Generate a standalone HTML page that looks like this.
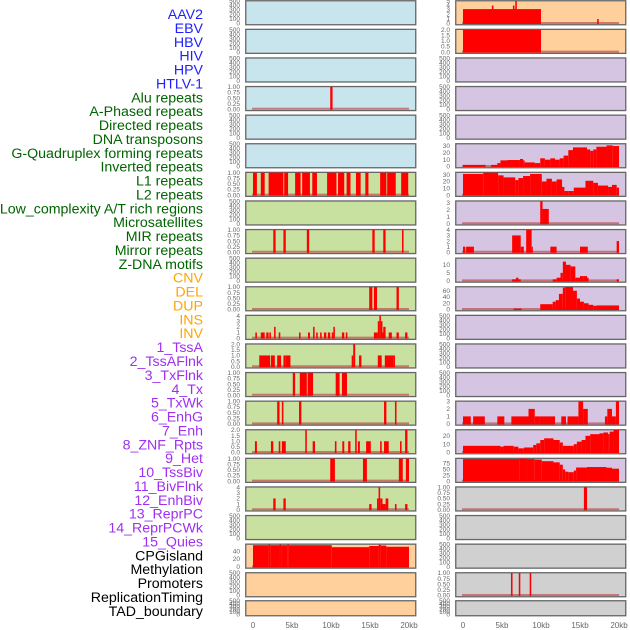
<!DOCTYPE html>
<html><head><meta charset="utf-8"><style>
body{margin:0;background:#fff;width:630px;height:630px;overflow:hidden}
svg{display:block;font-family:"Liberation Sans",sans-serif}
</style></head><body>
<svg id="chart" width="630" height="630" viewBox="0 0 630 630"></svg>
<script>
// Track labels
const labels = ["AAV2","EBV","HBV","HIV","HPV","HTLV-1","Alu repeats","A-Phased repeats","Directed repeats","DNA transposons","G-Quadruplex forming repeats","Inverted repeats","L1 repeats","L2 repeats","Low_complexity A/T rich regions","Microsatellites","MIR repeats","Mirror repeats","Z-DNA motifs","CNV","DEL","DUP","INS","INV","1_TssA","2_TssAFlnk","3_TxFlnk","4_Tx","5_TxWk","6_EnhG","7_Enh","8_ZNF_Rpts","9_Het","10_TssBiv","11_BivFlnk","12_EnhBiv","13_ReprPC","14_ReprPCWk","15_Quies","CPGisland","Methylation","Promoters","ReplicationTiming","TAD_boundary"];
const labelColors = ["#1f1fff","#006400","#ffa500","#a030f0","#000"];
const labelGroup = [0,0,0,0,0,0,1,1,1,1,1,1,1,1,1,1,1,1,1,2,2,2,2,2,3,3,3,3,3,3,3,3,3,3,3,3,3,3,3,4,4,4,4,4];
const panelFill = ["#c8e4ec","#c8e0a0","#ffd09c","#d5c5e2","#d0d0d0"];
const leftGroup = [0,0,0,0,0,0,1,1,1,1,1,1,1,1,1,1,1,1,1,2,2,2];
const rightGroup = [2,2,3,3,3,3,3,3,3,3,3,3,3,3,3,3,3,4,4,4,4,4];
const xTickVals = [0,5,10,15,20];
const xTickLabels = ["0","5kb","10kb","15kb","20kb"];
const L0=[],L1=[],L2=[],L4=[],L5=[],L7=[],L9=[],L18=[],L20=[],L21=[];
const L3=[[9.9,10.2,1]];
const L6=[[0,0.5,1],[1,1.5,1],[2,3.9,1],[4,4.5,1],[5.4,6.1,1],[6.3,7.3,1],[7.6,8.2,1],[9.5,10.7,1],[10.9,11.7,1],[12,12.5,1],[13.2,13.8,1],[14.4,14.8,1],[16.3,17.1,1],[17.2,18.3,1],[19,19.9,1]];
const L8=[[2.6,2.9,1],[3.9,4.2,1],[6.9,7.2,1],[15.3,15.6,1],[16.7,17,1],[19.1,19.3,1]];
const L10=[[14.9,15.3,1],[15.5,15.9,1],[18.4,18.7,1]];
const L11=[[0.3,0.5,1],[1,1.5,1],[1.7,2,1],[2.1,2.3,1],[2.7,2.9,2],[3.3,3.5,1],[5.9,6.1,1],[7.05,7.3,1],[7.7,7.9,2],[8.1,8.3,1],[8.6,8.8,1],[9.1,9.4,1],[9.6,9.9,1],[10.1,10.3,1],[10.3,10.5,2],[11.4,11.7,1],[11.9,12.1,1],[15.5,16,1],[16,16.2,3],[16.2,16.4,4],[16.4,16.6,3],[16.6,16.7,1],[16.7,17,2],[17.4,17.8,1],[18.4,18.7,1],[19.5,19.8,1]];
const L12=[[0.8,2.2,1],[2.3,2.8,1],[3.1,3.6,1],[3.9,4.2,1],[4.2,4.8,1],[12.65,12.85,1],[12.85,13.1,2],[13.6,13.9,1],[16,16.5,1],[16.9,18,1],[18,18.2,1]];
const L13=[[5.1,5.4,1],[6,6.9,1],[7,7.7,1],[10.6,11.1,1],[11.4,12.05,1]];
const L14=[[3.1,3.4,1],[3.7,3.9,1],[5.9,6.2,1],[16.8,17.1,1],[18.2,18.4,1]];
const L15=[[0.25,0.5,1],[2.3,2.6,1],[3.3,3.5,1],[3.7,4.2,1],[6.7,6.9,2],[7.65,7.95,1],[10.5,10.7,1],[11.45,11.7,1],[12.2,12.5,1],[13.1,13.3,2],[13.45,13.7,1],[14.5,15.1,1],[16.3,16.5,1],[16.8,17.4,1],[18.85,19.05,1],[19.5,19.8,2]];
const L16=[[9.9,10.5,1],[14.1,14.6,1],[18.7,19.2,1],[19.6,20,1]];
const L17=[[2.6,2.9,2],[3.9,4.2,2],[14.9,15.2,1],[15.9,16.1,2],[16.1,16.3,4],[16.3,16.6,2],[16.6,17,1],[17,17.35,2],[18.2,18.4,1],[19.5,19.8,1]];
const L19=[[0,2,55],[2,2.2,57],[2.2,3.4,55],[3.4,3.6,57],[3.6,4.4,55],[4.4,4.6,57],[4.6,10.1,55],[10.1,14.9,50],[14.9,16.1,53],[16.1,16.4,56],[16.4,17.1,54],[17.1,20,51]];
const R0=[[0,10,3.2],[3.7,3.9,4],[6.4,6.6,4],[6.7,6.9,5],[17.2,17.4,1]];
const R1=[[0,10,2]];
const R2=[],R3=[],R4=[],R11=[],R12=[],R13=[],R18=[],R19=[],R21=[];
const R5=[[0,2.9,2.4],[3.6,4.4,2.4],[4.4,4.8,5],[4.8,5.7,9],[5.7,7.3,9.5],[7.3,7.7,11],[7.7,7.9,9],[7.9,9.2,6],[9.2,9.9,5],[9.9,10.5,12],[10.5,11.2,10],[11.2,11.8,12],[11.8,12.4,10],[12.4,12.9,12],[12.9,13.5,16],[13.5,14.1,24],[14.1,15.9,28],[15.9,16.3,25],[16.3,16.7,23],[16.7,17.1,25],[17.1,18.4,29],[18.4,19.2,31],[19.2,20,30]];
const R6=[[0,2.6,31],[2.6,4.5,33],[4.5,5.2,29],[5.2,6.7,26],[6.7,7.1,22],[7.1,7.7,25],[7.7,8.6,28],[8.6,10.1,31],[10.1,10.7,20],[10.7,11.4,24],[11.4,12,20],[12,12.7,23],[12.7,13,12],[13,13.5,6],[13.5,14.2,6],[14.2,15.7,11],[15.7,16.7,21],[16.7,17.3,18],[17.3,18.6,14],[18.6,19.1,12],[19.1,19.7,15],[19.7,20,11]];
const R7=[[9.9,10.2,3.2],[10.2,11,2.1]];
const R8=[[0,0.3,1],[0.4,1.4,1],[6.3,7.4,3],[7.4,7.8,1],[8.1,8.8,4],[8.8,8.9,1],[11.2,12,1],[15,16,1],[19.7,20,2]];
const R9=[[6.3,6.8,1],[6.8,7.1,2],[7.1,7.4,1],[11.5,12,1],[12,12.5,2],[12.5,12.8,5],[12.8,13.2,12],[13.2,13.8,10],[13.8,14.4,9],[14.4,15,2],[15,15.4,3],[15.4,15.9,3],[15.9,16.1,2],[19.7,20,1]];
const R10=[[6.5,7.5,3],[9.9,11.5,17],[11.5,11.9,25],[11.9,12.3,30],[12.3,12.8,50],[12.8,13.1,70],[13.1,14.1,72],[14.1,14.6,60],[14.6,15,35],[15,15.5,25],[15.5,16.1,20],[16.1,16.7,15],[16.7,17.1,12],[17.1,20,13]];
const R14=[[0,1,1],[1.3,2.8,1],[4.4,5.3,1],[6.2,8.4,1],[8.4,9.2,2],[9.2,9.8,1],[9.8,11.8,1],[12.6,13.2,1],[13.4,14.8,1],[14.8,15.4,3],[15.4,16,2],[18.2,18.5,1],[18.5,19.1,2],[19.1,19.6,1],[19.6,20,3]];
const R15=[[0,4.8,8],[4.8,5.2,7],[5.2,6.5,8],[6.5,7.1,7],[7.1,7.8,5],[7.8,9,6],[9,9.4,9],[9.4,9.9,11],[9.9,10.4,15],[10.4,11.6,17],[11.6,12.4,15],[12.4,12.8,12],[12.8,14.2,8],[14.2,14.6,10],[14.6,15.2,13],[15.2,15.7,15],[15.7,16.3,20],[16.3,17.5,22],[17.5,18,23],[18,18.6,24],[18.6,18.8,22],[18.8,19.3,25],[19.3,20,27]];
const R16=[[0,7.2,94],[7.2,8.2,96],[8.2,9.2,94],[9.2,10.1,92],[10.1,11.6,85],[11.6,12.4,80],[12.4,12.8,70],[12.8,13.1,50],[13.1,13.5,40],[13.5,14.2,38],[14.2,14.5,45],[14.5,15.9,58],[15.9,18.4,60],[18.4,19.1,57],[19.1,20,53]];
const R17=[[15.5,15.9,1]];
const R20=[[6.15,6.35,1],[7.15,7.35,1],[8.55,8.75,1]];
const leftData=[L0,L1,L2,L3,L4,L5,L6,L7,L8,L9,L10,L11,L12,L13,L14,L15,L16,L17,L18,L19,L20,L21];
const rightData=[R0,R1,R2,R3,R4,R5,R6,R7,R8,R9,R10,R11,R12,R13,R14,R15,R16,R17,R18,R19,R20,R21];
const leftMax=[500,500,500,1,500,500,1,500,1,500,1,4,2,1,1,2,1,4,500,57,500,500];
const rightMax=[5,2,500,500,500,33,33,3.2,4,14,72,500,500,500,3,27,96,1,500,500,1,500];
const ticks500=["0","100","200","300","400","500"];
const ticks1=["0.00","0.25","0.50","0.75","1.00"];
const ticks2=["0.0","0.5","1.0","1.5","2.0"];
const ticks4=["0","1","2","3","4"];
const ticks5=["0","1","2","3","4","5"];
const ticks3=["0","1","2","3"];
const ticks30=["0","10","20","30"];
const ticks10=["0","5","10"];
const ticks60=["0","20","40","60"];
const ticks20=["0","10","20"];
const ticks75=["0","25","50","75"];
const ticks40=["0","20","40"];
const leftTicks=[ticks500,ticks500,ticks500,ticks1,ticks500,ticks500,ticks1,ticks500,ticks1,ticks500,ticks1,ticks4,ticks2,ticks1,ticks1,ticks2,ticks1,ticks4,ticks500,ticks40,ticks500,ticks500];
const rightTicks=[ticks5,ticks2,ticks500,ticks500,ticks500,ticks30,ticks30,ticks3,ticks4,ticks10,ticks60,ticks500,ticks500,ticks500,ticks3,ticks20,ticks75,ticks1,ticks500,ticks500,ticks1,ticks500];

const NS="http://www.w3.org/2000/svg";
const svg=document.getElementById('chart');
function mk(tag,attrs,parent){const e=document.createElementNS(NS,tag);for(const k in attrs)e.setAttribute(k,attrs[k]);(parent||svg).appendChild(e);return e;}

labels.forEach((t,i)=>{
  const e=mk('text',{x:203,y:14+i*13.88+5,'text-anchor':'end','font-size':14.2,fill:labelColors[labelGroup[i]]});
  
  
  e.textContent=t;
});

function rowTop(i){return i===21?600:i*28.6;}
function rowH(i){return i===21?16:25;}

function drawColumn(px,x0,x1,data,maxes,tks,groups,side){
  const xs=k=>x0+(x1-x0)*k/20;
  for(let i=0;i<22;i++){
    const top=rowTop(i),h=rowH(i),bot=top+h;
    const g=mk('g',{});
    
    
    const bg=mk('rect',{x:px+0.75,y:top+0.75,width:170,height:h-1,fill:panelFill[groups[i]],stroke:'#666','stroke-width':1.3},g);
    
    
    const ys=v=>bot-1.5-(h-2.5)*v/maxes[i];
    tks[i].forEach(t=>{
      const v=parseFloat(t);
      const tt=mk('text',{x:px-5,y:ys(v)+2.2,'text-anchor':'end','font-size':6.5,fill:'#666'},g);
      
      
      tt.textContent=t;
    });
    const segs=data[i];
    if(segs.length){
      const bl=mk('line',{x1:xs(0)-1,x2:xs(20),y1:bot-2,y2:bot-2,stroke:'#c05050','stroke-width':2,opacity:0.7},g);
      
      
      segs.forEach(s=>{
        const a=xs(s[0]),b=xs(s[1]);
        const y=Math.max(top+1,ys(s[2]));
        const r=mk('rect',{x:a,y:y,width:Math.max(1.2,b-a),height:bot-1-y,fill:'#ff0000'},g);
        
        
      });
    }
  }
  xTickVals.forEach((v,j)=>{
    const t=mk('text',{x:xs(v),y:628,'text-anchor':'middle','font-size':8,fill:'#666'});
    
    
    t.textContent=xTickLabels[j];
  });
}
drawColumn(245,253,409,leftData,leftMax,leftTicks,leftGroup,'left');
drawColumn(455,463,619,rightData,rightMax,rightTicks,rightGroup,'right');
</script>
</body></html>
